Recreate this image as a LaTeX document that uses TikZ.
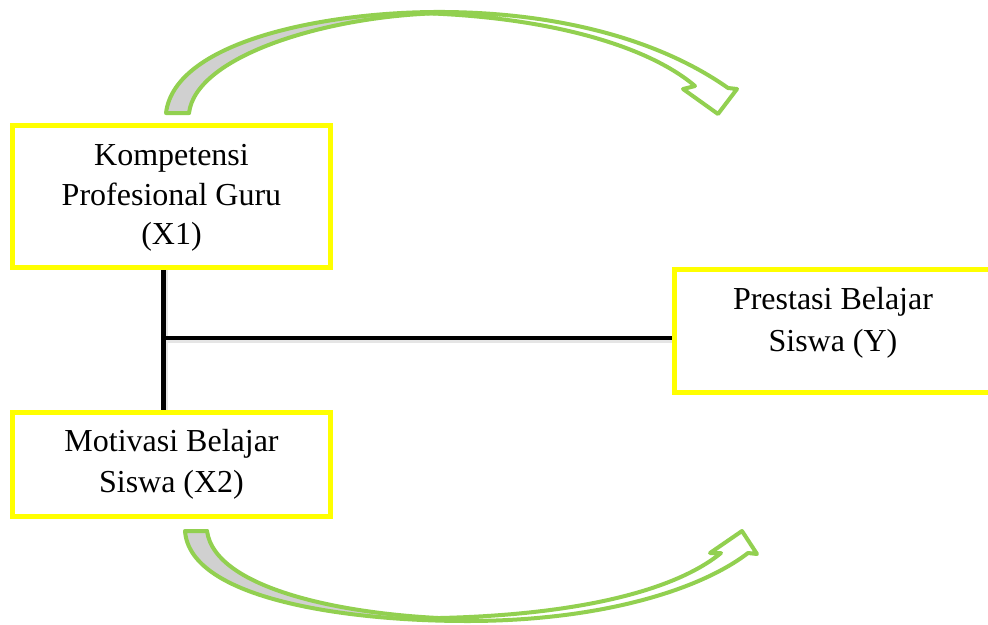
\documentclass[tikz,border=0pt]{standalone}
\usepackage{fontspec}
\setmainfont{Liberation Serif}
\definecolor{boxyellow}{HTML}{FFFF00}
\definecolor{arrgreen}{HTML}{92D050}
\definecolor{arrgray}{HTML}{D0D0D0}
\tikzset{
  varbox/.style={draw=boxyellow, line width=5pt, rectangle, align=center, inner sep=0pt,
                 font=\fontsize{32}{41}\selectfont},
  vartext/.style={align=center, inner sep=0pt, font=\fontsize{32}{42}\selectfont},
  link/.style={line width=4.5pt, draw=black},
  linkshadow/.style={line width=5pt, draw=black!10},
  greenline/.style={draw=arrgreen, line width=4pt, line join=round, line cap=round},
}
\begin{document}
\begin{tikzpicture}[x=1pt,y=-1pt]
\useasboundingbox (0,0) rectangle (988,624);
\fill[white] (0,0) rectangle (988,624);

% boxes
\node[varbox, minimum width=318pt, minimum height=142pt, font=\fontsize{32}{39.5}\selectfont,
      text depth=4pt] (X1) at (171.5,196.6)
  {Kompetensi\\Profesional Guru\\(X1)};
\node[varbox, minimum width=318pt, minimum height=104pt] (X2) at (171.5,464.5)
  {Motivasi Belajar\\Siswa (X2)};
\node[varbox, minimum width=322pt, minimum height=123.5pt] (Y) at (835,330.75) {};
\node[vartext] (Ytext) at (833,323) {Prestasi Belajar\\Siswa (Y)};

% connectors
\coordinate (j) at (163.5,338);
\coordinate (js) at (165.5,340);
\draw[linkshadow] (js |- X1.south) -- (js |- X2.north);
\draw[linkshadow] (js) -- (js -| Y.west);
\draw[link] (j |- X1.south) -- (j |- X2.north);
\draw[link] (j) -- (j -| Y.west);

% top curved arrow
\fill[arrgray] (166,113) .. controls (175,40) and (330,11) .. (445,12)
   .. controls (330,15) and (196,55) .. (189,113) -- cycle;
\draw[greenline] (189,113) -- (166,113) .. controls (175,40) and (330,11) .. (445,12)
   .. controls (560,13) and (660,40) .. (728,88) -- (737,89) -- (718,114) -- (683,89) -- (695,86)
   .. controls (648,46) and (550,17) .. (420,13);
\draw[greenline] (189,113) .. controls (196,55) and (330,15) .. (445,13);

% bottom curved arrow
\fill[arrgray] (185,531) .. controls (190,600) and (350,621) .. (467,621)
   .. controls (350,617) and (215,590) .. (207,531) -- cycle;
\draw[greenline] (207,531) -- (185,531) .. controls (190,600) and (350,621) .. (467,621)
   .. controls (600,621) and (700,590) .. (748,553) -- (757,554) -- (742,531) -- (710,553) -- (721,553)
   .. controls (672,593) and (570,615) .. (440,618);
\draw[greenline] (207,531) .. controls (215,590) and (350,617) .. (467,619);
\end{tikzpicture}
\end{document}
